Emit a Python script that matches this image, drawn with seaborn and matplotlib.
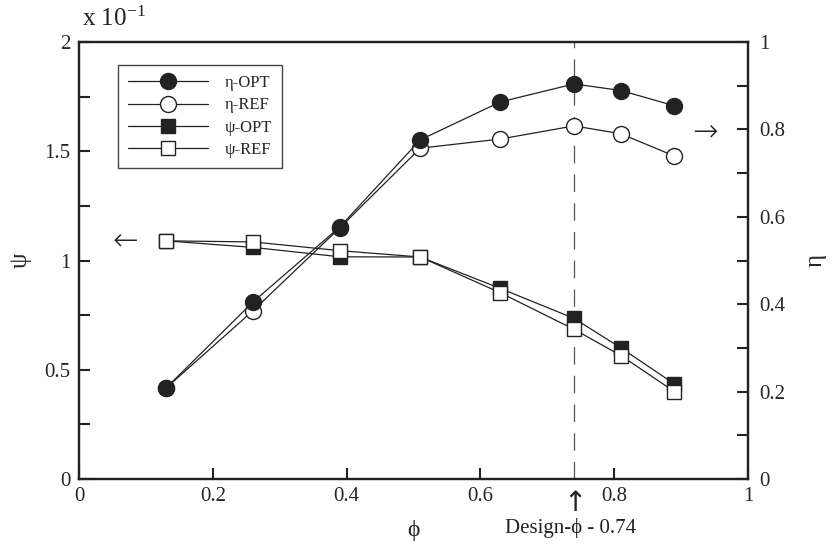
import numpy as np
import pandas as pd
import matplotlib
matplotlib.use("Agg")
import matplotlib.pyplot as plt
import matplotlib.transforms as mtransforms
from matplotlib.lines import Line2D
import seaborn as sns

# ---- data ----
phi = [0.13, 0.26, 0.39, 0.51, 0.63, 0.74, 0.81, 0.89]
eta_opt = [0.208, 0.405, 0.577, 0.776, 0.863, 0.904, 0.889, 0.854]
eta_ref = [0.208, 0.385, 0.575, 0.757, 0.778, 0.808, 0.790, 0.739]
psi_opt = [1.09, 1.06, 1.017, 1.016, 0.872, 0.735, 0.600, 0.435]
psi_ref = [1.09, 1.085, 1.045, 1.016, 0.852, 0.685, 0.565, 0.400]
design_phi = 0.74
x_ticks = [0, 0.2, 0.4, 0.6, 0.8, 1]
x_ticklabels = ["0", "0.2", "0.4", "0.6", "0.8", "1"]
psi_ticks = [0, 0.5, 1, 1.5, 2]
psi_ticklabels = ["0", "0.5", "1", "1.5", "2"]
eta_ticks = [0, 0.2, 0.4, 0.6, 0.8, 1]
eta_ticklabels = ["0", "0.2", "0.4", "0.6", "0.8", "1"]
legend_labels = ["η-OPT", "η-REF", "ψ-OPT", "ψ-REF"]

df = pd.DataFrame({"phi": phi, "eta_opt": eta_opt, "eta_ref": eta_ref,
                   "psi_opt": psi_opt, "psi_ref": psi_ref})

sns.set_theme(style="ticks")
serif = ["Liberation Serif", "DejaVu Serif"]
plt.rcParams["font.family"] = serif
plt.rcParams["mathtext.fontset"] = "stix"
plt.rcParams["axes.unicode_minus"] = False

INK = "#222222"
fig = plt.figure(figsize=(8.32, 5.51), dpi=100)
ax = fig.add_axes([79 / 832, 1 - 479 / 551, (748 - 79) / 832, (479 - 42) / 551])
ax2 = ax.twinx()

line_kw = dict(color=INK, linewidth=0.9, legend=False)
sns.lineplot(data=df, x="phi", y="psi_opt", ax=ax, marker="s", markersize=9.5,
             markerfacecolor=INK, markeredgecolor=INK, markeredgewidth=1.0, **line_kw)
sns.lineplot(data=df, x="phi", y="psi_ref", ax=ax, marker="s", markersize=9.5,
             markerfacecolor="white", markeredgecolor=INK, markeredgewidth=1.0, **line_kw)
sns.lineplot(data=df, x="phi", y="eta_ref", ax=ax2, marker="o", markersize=11.5,
             markerfacecolor="white", markeredgecolor=INK, markeredgewidth=1.0, **line_kw)
sns.lineplot(data=df, x="phi", y="eta_opt", ax=ax2, marker="o", markersize=11.5,
             markerfacecolor=INK, markeredgecolor=INK, markeredgewidth=1.0, **line_kw)

ax.axvline(design_phi, color="#555555", linewidth=0.9, dashes=(14, 9), zorder=0)

ax.set_xlim(0, 1)
ax.set_ylim(0, 2)
ax2.set_ylim(0, 1)
ax.set_xticks(x_ticks)
ax.set_xticklabels(x_ticklabels)
ax.set_yticks(psi_ticks)
ax.set_yticklabels(psi_ticklabels)
ax.set_yticks(np.arange(0, 2.01, 0.25), minor=True)
ax2.set_yticks(eta_ticks)
ax2.set_yticklabels(eta_ticklabels)
ax2.set_yticks(np.arange(0, 1.01, 0.1), minor=True)

FS = 15
for a in (ax, ax2):
    for s in a.spines.values():
        s.set_linewidth(1.6)
        s.set_color(INK)
ax.tick_params(axis="x", which="major", direction="in", length=8, width=1.5,
               color=INK, labelsize=FS, pad=6, top=False)
ax.tick_params(axis="y", which="both", direction="in", length=8, width=1.5,
               color=INK, labelsize=FS, pad=6, right=False)
ax2.tick_params(axis="y", which="both", direction="in", length=8, width=1.5,
                color=INK, labelsize=FS, pad=8, left=False)

ax.set_xlabel("ϕ", fontsize=FS + 2, labelpad=10)
ax.set_ylabel("ψ", fontsize=FS + 3, labelpad=9)
ax2.set_ylabel("η", fontsize=FS + 3, labelpad=14)

# multiplier on top of the left axis
ax.text(0.005, 1.025, r"x 10$^{\mathregular{-1}}$", transform=ax.transAxes,
        fontsize=FS + 3, ha="left", va="bottom", color=INK)

# direction arrows
ax.text(0.069, 1.09, "←", fontsize=FS + 7, ha="center", va="center", color=INK,
        family=["DejaVu Sans"], fontweight="light")
ax2.text(0.936, 0.795, "→", fontsize=FS + 7, ha="center", va="center", color=INK,
         family=["DejaVu Sans"], fontweight="light")

# design point annotation
btr = mtransforms.blended_transform_factory(ax.transData, ax.transAxes)
ax.text(design_phi + 0.002, -0.022, "↑", transform=btr, fontsize=FS + 5,
        ha="center", va="top", color=INK, family=["DejaVu Sans"])
ax.text(0.637, -0.09, "Design-ϕ - 0.74", transform=btr, fontsize=FS,
        ha="left", va="top", color=INK)

# legend
handles = [
    Line2D([], [], color=INK, lw=0.9, marker="o", ms=11.5, mfc=INK, mec=INK),
    Line2D([], [], color=INK, lw=0.9, marker="o", ms=11.5, mfc="white", mec=INK),
    Line2D([], [], color=INK, lw=0.9, marker="s", ms=9.5, mfc=INK, mec=INK),
    Line2D([], [], color=INK, lw=0.9, marker="s", ms=9.5, mfc="white", mec=INK),
]
leg = ax2.legend(handles, legend_labels, loc="upper left", bbox_to_anchor=(0.058, 0.947),
                 borderaxespad=0, frameon=True, fancybox=False, framealpha=1,
                 edgecolor="#444444", fontsize=12, handlelength=4.8,
                 handletextpad=1.0, labelspacing=0.38, borderpad=0.6)
leg.get_frame().set_linewidth(1.0)

fig.savefig("out.png", dpi=100, facecolor="white")
